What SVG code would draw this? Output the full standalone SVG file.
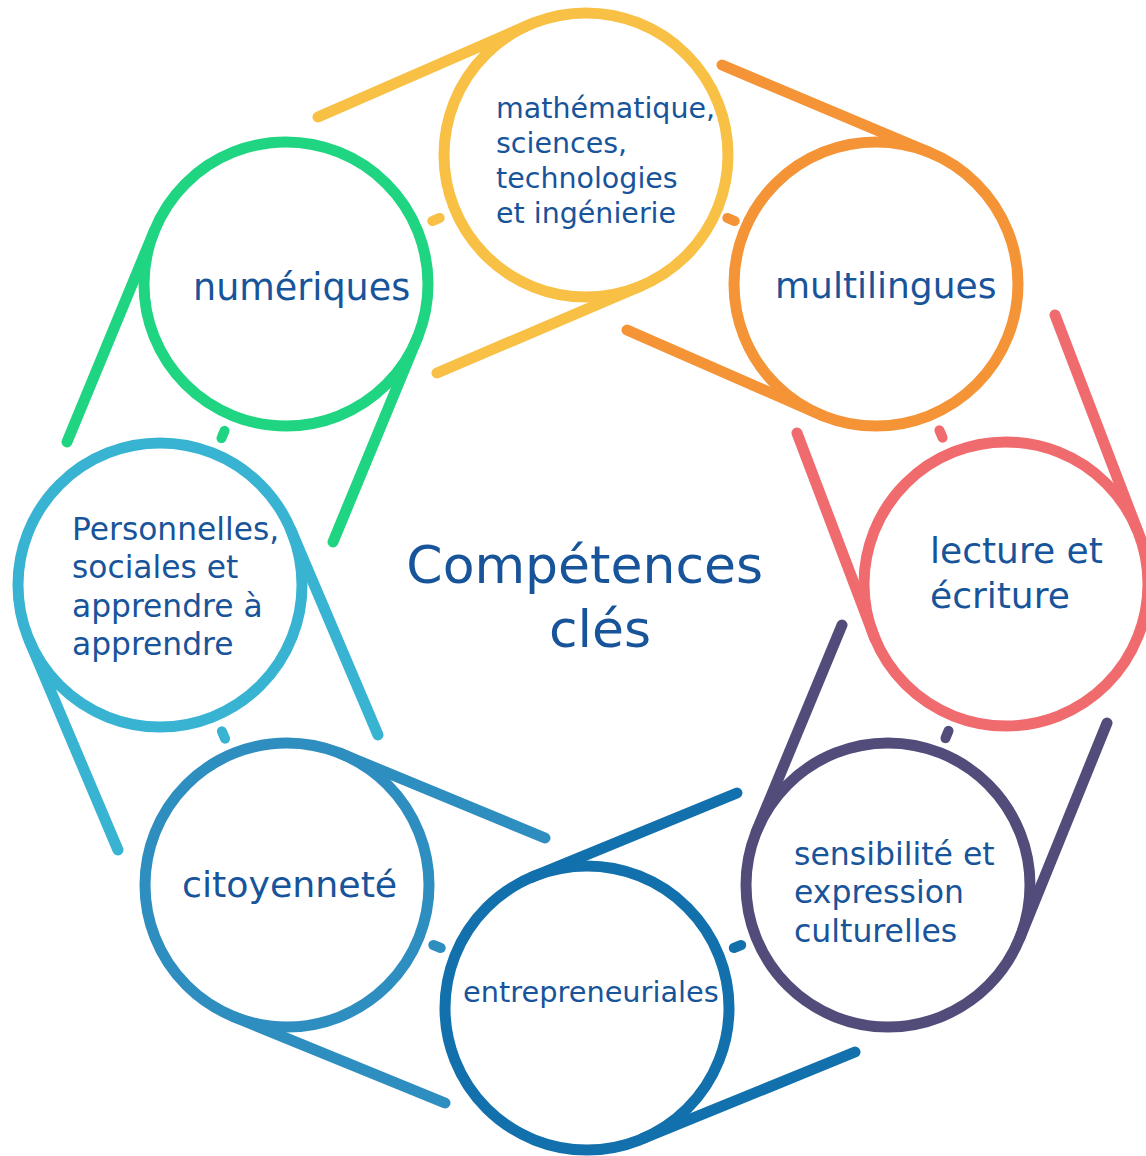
<svg xmlns="http://www.w3.org/2000/svg" width="1146" height="1156" viewBox="0 0 1146 1156">
  <style>
    .ring { fill: none; stroke-width: 11; }
    .tail { fill: none; stroke-width: 11; stroke-linecap: round; }
    .dash { stroke-width: 10; stroke-linecap: round; }
    .lbl { font-family: "DejaVu Sans", Verdana, sans-serif; fill: #18549A; }
    .c0 { stroke: #F8C044; }
    .c1 { stroke: #F49437; }
    .c2 { stroke: #F06B6E; }
    .c3 { stroke: #524C7B; }
    .c4 { stroke: #1270AC; }
    .c5 { stroke: #2F8EC0; }
    .c6 { stroke: #38B4D2; }
    .c7 { stroke: #1FD581; }
  </style>
  <rect width="1146" height="1156" fill="#ffffff"/>

  <g id="connectors">
    <line class="dash c0" x1="432.3" y1="221.1" x2="439.7" y2="217.9"/>
    <line class="dash c1" x1="727.3" y1="217.9" x2="734.7" y2="221.1"/>
    <line class="dash c2" x1="939.4" y1="430.3" x2="942.6" y2="437.7"/>
    <line class="dash c3" x1="948.5" y1="730.8" x2="945.5" y2="738.2"/>
    <line class="dash c4" x1="741.2" y1="945" x2="733.8" y2="948"/>
    <line class="dash c5" x1="440.7" y1="948" x2="433.3" y2="945"/>
    <line class="dash c6" x1="225.1" y1="738.7" x2="221.9" y2="731.3"/>
    <line class="dash c7" x1="221.5" y1="438.2" x2="224.5" y2="430.8"/>
  </g>

  <g id="node-math">
    <line class="tail c0" x1="318" y1="117" x2="530.5" y2="24.3"/>
    <line class="tail c0" x1="437" y1="373" x2="641.5" y2="285.7"/>
    <circle class="ring c0" cx="586" cy="155" r="142"/>
    <text class="lbl" font-size="28.5">
      <tspan x="496" y="118">mathématique,</tspan>
      <tspan x="496" y="153">sciences,</tspan>
      <tspan x="496" y="188">technologies</tspan>
      <tspan x="496" y="223">et ingénierie</tspan>
    </text>
  </g>

  <g id="node-multilingues">
    <line class="tail c1" x1="722" y1="65" x2="929.2" y2="152.3"/>
    <line class="tail c1" x1="627" y1="330" x2="822.8" y2="415.7"/>
    <circle class="ring c1" cx="876" cy="284" r="142"/>
    <text class="lbl" font-size="36" x="775" y="298">multilingues</text>
  </g>

  <g id="node-lecture">
    <line class="tail c2" x1="1055" y1="315" x2="1136.7" y2="528.5"/>
    <line class="tail c2" x1="797" y1="433" x2="875.3" y2="639.5"/>
    <circle class="ring c2" cx="1006" cy="584" r="142"/>
    <text class="lbl" font-size="36">
      <tspan x="930" y="563">lecture et</tspan>
      <tspan x="930" y="608">écriture</tspan>
    </text>
  </g>

  <g id="node-sensibilite">
    <line class="tail c3" x1="1107" y1="723" x2="1019.7" y2="938.2"/>
    <line class="tail c3" x1="842" y1="625" x2="756.3" y2="831.8"/>
    <circle class="ring c3" cx="888" cy="885" r="142"/>
    <text class="lbl" font-size="31.5">
      <tspan x="794" y="865">sensibilité et</tspan>
      <tspan x="794" y="903">expression</tspan>
      <tspan x="794" y="942">culturelles</tspan>
    </text>
  </g>

  <g id="node-entrepreneuriales">
    <line class="tail c4" x1="855" y1="1052" x2="642.5" y2="1138.7"/>
    <line class="tail c4" x1="737" y1="793" x2="531.5" y2="877.3"/>
    <circle class="ring c4" cx="587" cy="1008" r="142"/>
    <text class="lbl" font-size="28.8" x="463" y="1002">entrepreneuriales</text>
  </g>

  <g id="node-citoyennete">
    <line class="tail c5" x1="445" y1="1103" x2="233.8" y2="1016.7"/>
    <line class="tail c5" x1="545" y1="838" x2="340.2" y2="753.3"/>
    <circle class="ring c5" cx="287" cy="885" r="142"/>
    <text class="lbl" font-size="36.3" x="182" y="897">citoyenneté</text>
  </g>

  <g id="node-personnelles">
    <line class="tail c6" x1="118" y1="850" x2="29.3" y2="640.5"/>
    <line class="tail c6" x1="378" y1="735" x2="290.7" y2="529.5"/>
    <circle class="ring c6" cx="160" cy="585" r="142"/>
    <text class="lbl" font-size="31.3">
      <tspan x="72" y="540">Personnelles,</tspan>
      <tspan x="72" y="578">sociales et</tspan>
      <tspan x="72" y="617">apprendre à</tspan>
      <tspan x="72" y="655">apprendre</tspan>
    </text>
  </g>

  <g id="node-numeriques">
    <line class="tail c7" x1="67" y1="442" x2="154.3" y2="230.8"/>
    <line class="tail c7" x1="333" y1="542" x2="417.7" y2="337.2"/>
    <circle class="ring c7" cx="286" cy="284" r="142"/>
    <text class="lbl" font-size="36.5" x="193" y="300">numériques</text>
  </g>

  <g id="title">
    <text class="lbl" font-size="52" text-anchor="middle">
      <tspan x="593" y="583">Compétences</tspan>
      <tspan x="600" y="647">clés</tspan>
    </text>
  </g>
</svg>
